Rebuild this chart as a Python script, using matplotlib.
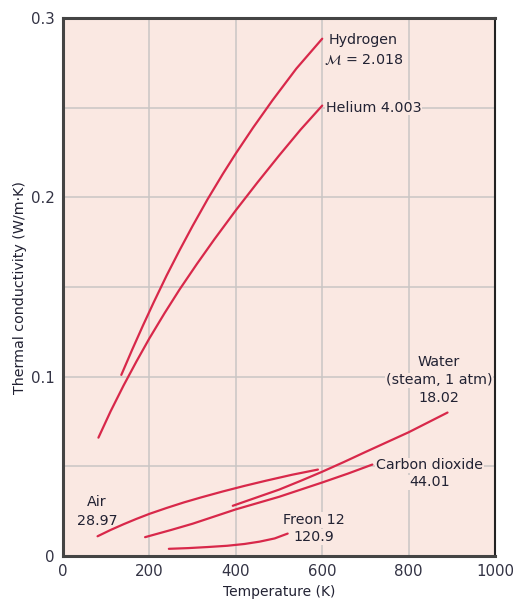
import matplotlib
matplotlib.use('Agg')
import matplotlib.pyplot as plt

# curves (temperature K, conductivity W/m.K)
h2_T = [135, 160, 185, 210, 240, 270, 300, 335, 370, 400, 440, 485, 540, 600]
h2_k = [0.101, 0.115, 0.1285, 0.1415, 0.1565, 0.1706, 0.1841, 0.1991, 0.2131,
        0.2245, 0.2389, 0.2542, 0.2718, 0.2885]

he_T = [82, 110, 140, 170, 200, 235, 270, 310, 350, 400, 450, 500, 550, 600]
he_k = [0.066, 0.0806, 0.095, 0.1085, 0.1214, 0.1354, 0.1487, 0.1629, 0.1765,
        0.1928, 0.2083, 0.2233, 0.2378, 0.2512]

air_T = [80, 110, 140, 170, 200, 240, 280, 320, 370, 420, 470, 530, 590]
air_k = [0.011, 0.0145, 0.0177, 0.0207, 0.0235, 0.0268, 0.0299, 0.0327, 0.036,
         0.0391, 0.042, 0.0453, 0.0482]

co2_T = [190, 250, 300, 350, 400, 450, 500, 550, 600, 660, 716]
co2_k = [0.0105, 0.0145, 0.018, 0.022, 0.026, 0.0295, 0.033, 0.037, 0.041, 0.046, 0.051]

water_T = [393, 450, 500, 550, 600, 650, 700, 750, 800, 845, 890]
water_k = [0.028, 0.0328, 0.037, 0.0419, 0.047, 0.0524, 0.058, 0.0635, 0.069, 0.0745, 0.080]

freon_T = [245, 290, 335, 380, 420, 455, 490, 520]
freon_k = [0.004, 0.0044, 0.005, 0.0057, 0.0067, 0.008, 0.0098, 0.0125]

xticks = [0, 200, 400, 600, 800, 1000]
yticks = [0, 0.1, 0.2, 0.3]
yticklabels = ['0', '0.1', '0.2', '0.3']

bg = '#FAE8E2'
red = '#D8284A'
txt = '#222233'

fig = plt.figure(figsize=(5.13, 5.99), dpi=100)
ax = fig.add_axes([0.1228, 0.0718, 0.8422, 0.898])
ax.set_facecolor(bg)

for T, k in [(h2_T, h2_k), (he_T, he_k), (air_T, air_k), (co2_T, co2_k),
             (water_T, water_k), (freon_T, freon_k)]:
    ax.plot(T, k, color=red, lw=1.6, solid_capstyle='round', zorder=3)

ax.set_xlim(0, 1000)
ax.set_ylim(0, 0.3)
ax.set_xticks(xticks)
ax.set_yticks(yticks)
ax.set_yticklabels(yticklabels)
ax.set_yticks([0.05, 0.15, 0.25], minor=True)
ax.grid(True, which='both', color='#C9C6C4', lw=1.1, zorder=1)
ax.set_axisbelow(True)
ax.tick_params(which='both', length=0, pad=6, labelsize=10.8, colors='#333344')

for s in ['left', 'bottom', 'top']:
    ax.spines[s].set_linewidth(2.2)
    ax.spines[s].set_color('#444444')
ax.spines['right'].set_linewidth(1.5)
ax.spines['right'].set_color('#222222')

ax.set_xlabel('Temperature (K)', fontsize=10, color=txt, labelpad=4)
ax.set_ylabel('Thermal conductivity (W/m·K)', fontsize=10.3, color=txt, labelpad=3)

box = dict(facecolor=bg, edgecolor='none', pad=0.5)
fs = 10.3
kw = dict(fontsize=fs, color=txt, ha='center', va='center', zorder=2)
ax.text(695, 0.288, 'Hydrogen', bbox=box, **kw)
ax.text(695, 0.277, r'$\mathcal{M}$ = 2.018', bbox=box, **kw)
ax.text(609, 0.25, 'Helium 4.003', fontsize=fs, color=txt, ha='left', va='center',
        bbox=box, zorder=2)
ax.text(870, 0.1083, 'Water', bbox=box, **kw)
ax.text(870, 0.098, '(steam, 1 atm)', bbox=box, **kw)
ax.text(870, 0.088, '18.02', bbox=box, **kw)
ax.text(848, 0.0506, 'Carbon dioxide', bbox=box, **kw)
ax.text(848, 0.0411, '44.01', bbox=box, **kw)
ax.text(581, 0.020, 'Freon 12', bbox=box, **kw)
ax.text(581, 0.0106, '120.9', bbox=box, **kw)
ax.text(79, 0.030, 'Air', bbox=box, **kw)
ax.text(79, 0.0194, '28.97', bbox=box, **kw)

fig.savefig('out.png', dpi=100, facecolor='white')
